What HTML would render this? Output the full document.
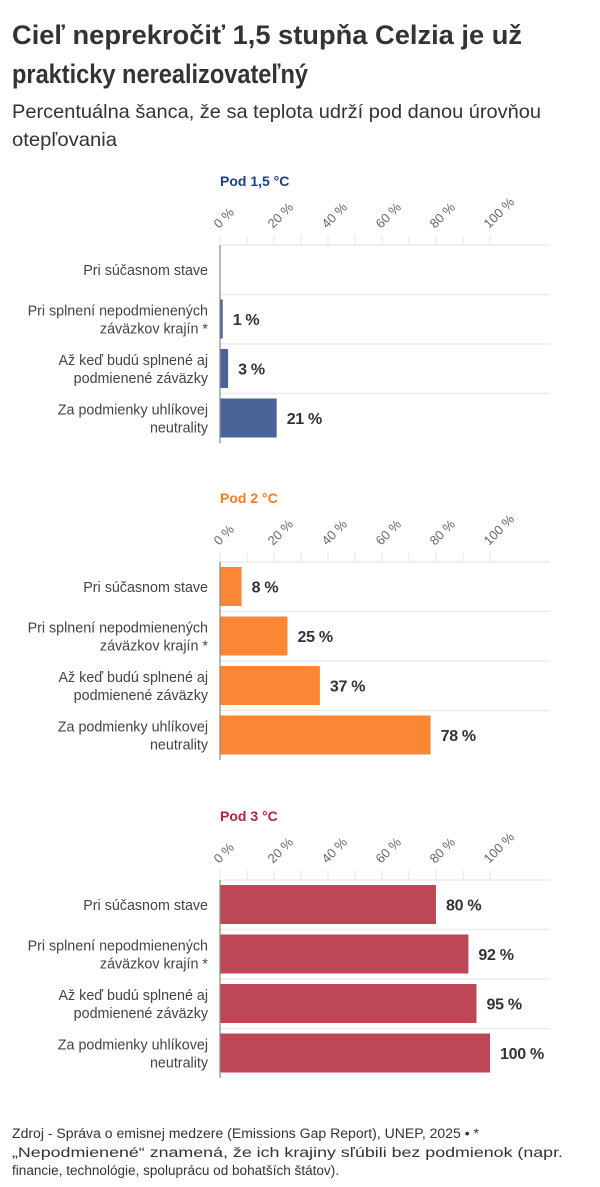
<!DOCTYPE html>
<html><head><meta charset="utf-8"><style>
html,body{margin:0;padding:0;background:#fff;}
svg{display:block;font-family:"Liberation Sans",sans-serif;}
.cat{font-size:14.3px;fill:#444;text-anchor:end;}
.val{font-size:16px;font-weight:bold;fill:#333;letter-spacing:-0.3px;}
.tick{font-size:13px;fill:#666;}
.g{stroke:#ebebeb;stroke-width:1.5;}
.tk{stroke:#e4e4e4;}
</style></head><body>
<svg width="600" height="1187" viewBox="0 0 600 1187" xmlns="http://www.w3.org/2000/svg">
<text x="12" y="44" font-size="27" font-weight="bold" fill="#333" textLength="510" lengthAdjust="spacingAndGlyphs">Cieľ neprekročiť 1,5 stupňa Celzia je už</text>
<text x="12" y="83" font-size="27" font-weight="bold" fill="#333" textLength="296" lengthAdjust="spacingAndGlyphs">prakticky nerealizovateľný</text>
<text x="12" y="118" font-size="19.5" fill="#333" textLength="529" lengthAdjust="spacingAndGlyphs">Percentuálna šanca, že sa teplota udrží pod danou úrovňou</text>
<text x="12" y="146" font-size="19.5" fill="#333" textLength="105" lengthAdjust="spacingAndGlyphs">otepľovania</text>

<defs>
<g id="frame">
<line class="tk" x1="220" y1="-10" x2="220" y2="0"/><line class="tk" x1="247" y1="-10" x2="247" y2="0"/><line class="tk" x1="274" y1="-10" x2="274" y2="0"/><line class="tk" x1="301" y1="-10" x2="301" y2="0"/><line class="tk" x1="328" y1="-10" x2="328" y2="0"/><line class="tk" x1="355" y1="-10" x2="355" y2="0"/><line class="tk" x1="382" y1="-10" x2="382" y2="0"/><line class="tk" x1="409" y1="-10" x2="409" y2="0"/><line class="tk" x1="436" y1="-10" x2="436" y2="0"/><line class="tk" x1="463" y1="-10" x2="463" y2="0"/><line class="tk" x1="490" y1="-10" x2="490" y2="0"/>
<text class="tick" transform="translate(219,-16) rotate(-45)">0 %</text>
<text class="tick" transform="translate(273,-16) rotate(-45)">20 %</text>
<text class="tick" transform="translate(327,-16) rotate(-45)">40 %</text>
<text class="tick" transform="translate(381,-16) rotate(-45)">60 %</text>
<text class="tick" transform="translate(435,-16) rotate(-45)">80 %</text>
<text class="tick" transform="translate(489,-16) rotate(-45)">100 %</text>
<line class="g" x1="220" y1="0" x2="550" y2="0"/>
<line class="g" x1="220" y1="49.5" x2="550" y2="49.5"/>
<line class="g" x1="220" y1="99" x2="550" y2="99"/>
<line class="g" x1="220" y1="148.5" x2="550" y2="148.5"/>
<text class="cat" x="208" y="30">Pri súčasnom stave</text>
<text class="cat" x="208" y="70.5">Pri splnení nepodmienených</text>
<text class="cat" x="208" y="88.5">záväzkov krajín *</text>
<text class="cat" x="208" y="120">Až keď budú splnené aj</text>
<text class="cat" x="208" y="138">podmienené záväzky</text>
<text class="cat" x="208" y="169.5">Za podmienky uhlíkovej</text>
<text class="cat" x="208" y="187.5">neutrality</text>
</g>
</defs>

<g transform="translate(0,245)">
<text x="220" y="-59" font-size="14" font-weight="bold" fill="#1e3f87">Pod 1,5 °C</text>
<use href="#frame"/>
<rect x="220" y="54.5" width="2.7" height="39" fill="#4a6399"/><text class="val" x="232.7" y="80">1 %</text>
<rect x="220" y="104" width="8.1" height="39" fill="#4a6399"/><text class="val" x="238.1" y="129.5">3 %</text>
<rect x="220" y="153.5" width="56.7" height="39" fill="#4a6399"/><text class="val" x="286.7" y="179">21 %</text>
<line x1="220" y1="0" x2="220" y2="198" stroke="#888" stroke-width="1.2"/>
</g>

<g transform="translate(0,562)">
<text x="220" y="-59" font-size="14" font-weight="bold" fill="#f97a1f">Pod 2 °C</text>
<use href="#frame"/>
<rect x="220" y="5" width="21.6" height="39" fill="#fb8633"/><text class="val" x="251.6" y="30.5">8 %</text>
<rect x="220" y="54.5" width="67.5" height="39" fill="#fb8633"/><text class="val" x="297.5" y="80">25 %</text>
<rect x="220" y="104" width="99.9" height="39" fill="#fb8633"/><text class="val" x="329.9" y="129.5">37 %</text>
<rect x="220" y="153.5" width="210.6" height="39" fill="#fb8633"/><text class="val" x="440.6" y="179">78 %</text>
<line x1="220" y1="0" x2="220" y2="198" stroke="#888" stroke-width="1.2"/>
</g>

<g transform="translate(0,880)">
<text x="220" y="-59" font-size="14" font-weight="bold" fill="#b0253a">Pod 3 °C</text>
<use href="#frame"/>
<rect x="220" y="5" width="216" height="39" fill="#bd4657"/><text class="val" x="446" y="30.5">80 %</text>
<rect x="220" y="54.5" width="248.4" height="39" fill="#bd4657"/><text class="val" x="478.4" y="80">92 %</text>
<rect x="220" y="104" width="256.5" height="39" fill="#bd4657"/><text class="val" x="486.5" y="129.5">95 %</text>
<rect x="220" y="153.5" width="270" height="39" fill="#bd4657"/><text class="val" x="500" y="179">100 %</text>
<line x1="220" y1="0" x2="220" y2="198" stroke="#888" stroke-width="1.2"/>
</g>

<text x="12" y="1138" font-size="13.5" fill="#333" textLength="467" lengthAdjust="spacingAndGlyphs">Zdroj - Správa o emisnej medzere (Emissions Gap Report), UNEP, 2025 • *</text>
<text x="12" y="1157" font-size="13.5" fill="#333" textLength="551" lengthAdjust="spacingAndGlyphs">„Nepodmienené“ znamená, že ich krajiny sľúbili bez podmienok (napr.</text>
<text x="12" y="1175" font-size="13.5" fill="#333" textLength="327" lengthAdjust="spacingAndGlyphs">financie, technológie, spoluprácu od bohatších štátov).</text>
</svg>
</body></html>
